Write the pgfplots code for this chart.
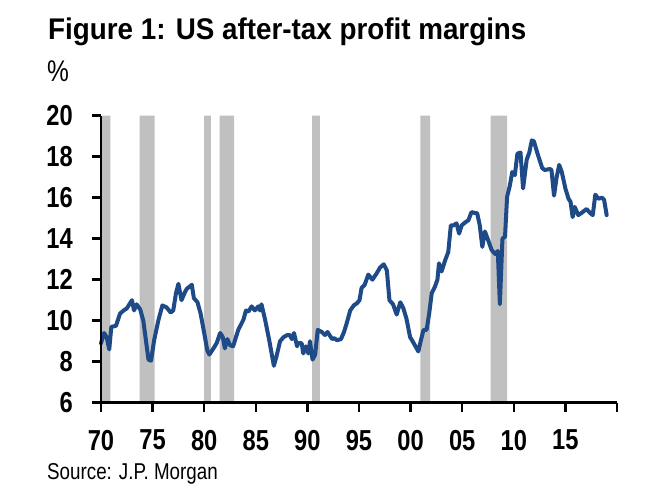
\documentclass[border=0pt]{standalone}
\usepackage{fontspec}
\setmainfont{Liberation Sans}[FakeStretch=0.82]
\newfontfamily\titlefont{Liberation Sans}[FakeStretch=0.93]
\usepackage{pgfplots}
\pgfplotsset{compat=1.18}
\definecolor{lineblue}{RGB}{30,75,135}
\definecolor{recgray}{RGB}{192,192,192}
\begin{document}
\begin{tikzpicture}
\path[use as bounding box] (0,0) rectangle (650bp,489bp);
\node[anchor=base west, inner sep=0pt] at (48bp,449bp) {\titlefont\bfseries\fontsize{30}{32}\selectfont Figure 1: US after-tax profit margins};
\node[anchor=base west, inner sep=0pt] at (47bp,407bp) {\fontsize{30}{32}\selectfont \%};
\node[anchor=base west, inner sep=0pt] at (47bp,10bp) {\fontsize{23}{25}\selectfont Source: J.P. Morgan};
\begin{axis}[
  at={(101bp,86.3bp)}, anchor=south west,
  scale only axis, width=516bp, height=287bp,
  xmin=1970, xmax=2020, ymin=6, ymax=20,
  axis x line=bottom, axis y line=left,
  axis line style={-, line width=2.5bp, black},
  axis on top,
  clip=false,
  xtick={1970,1975,...,2020},
  xticklabels={70,75,80,85,90,95,00,05,10,15,{}},
  ytick={6,8,...,20},
  tick align=outside,
  major tick length=9bp,
  tick style={line width=2.5bp, black},
  /pgf/number format/assume math mode=true,
  ticklabel style={font=\bfseries\fontsize{29}{30}\selectfont},
  xticklabel style={anchor=north, inner sep=0pt, yshift=-18bp},
  yticklabel style={anchor=east, inner sep=0pt, xshift=-19bp},
]
\addplot[fill=recgray, draw=none] coordinates {(1970.05,6) (1970.9,6) (1970.9,20) (1970.05,20)} \closedcycle;
\addplot[fill=recgray, draw=none] coordinates {(1973.75,6) (1975.2,6) (1975.2,20) (1973.75,20)} \closedcycle;
\addplot[fill=recgray, draw=none] coordinates {(1980.0,6) (1980.65,6) (1980.65,20) (1980.0,20)} \closedcycle;
\addplot[fill=recgray, draw=none] coordinates {(1981.5,6) (1982.9,6) (1982.9,20) (1981.5,20)} \closedcycle;
\addplot[fill=recgray, draw=none] coordinates {(1990.45,6) (1991.2,6) (1991.2,20) (1990.45,20)} \closedcycle;
\addplot[fill=recgray, draw=none] coordinates {(2000.95,6) (2001.9,6) (2001.9,20) (2000.95,20)} \closedcycle;
\addplot[fill=recgray, draw=none] coordinates {(2007.75,6) (2009.35,6) (2009.35,20) (2007.75,20)} \closedcycle;
\addplot[lineblue, line width=4bp, line join=round, line cap=round] table {
x y
1970.0 8.9
1970.3 9.4
1970.55 9.2
1970.8 8.6
1971.0 9.7
1971.45 9.75
1971.85 10.35
1972.2 10.5
1972.5 10.6
1973.0 11.0
1973.2 10.5
1973.45 10.8
1973.8 10.55
1974.1 10.0
1974.35 9.05
1974.6 8.1
1974.85 8.05
1975.15 9.05
1975.55 10.0
1975.95 10.75
1976.35 10.65
1976.75 10.4
1977.0 10.5
1977.27 11.35
1977.5 11.8
1977.8 11.0
1978.1 11.35
1978.3 11.55
1978.8 11.75
1979.0 11.1
1979.35 10.9
1979.65 10.35
1980.0 9.4
1980.3 8.55
1980.5 8.35
1980.9 8.65
1981.2 8.9
1981.55 9.4
1981.8 9.2
1982.0 8.65
1982.25 9.1
1982.5 8.8
1982.8 8.75
1983.3 9.55
1983.8 10.05
1984.05 10.5
1984.3 10.45
1984.6 10.7
1984.9 10.5
1985.25 10.7
1985.4 10.5
1985.55 10.8
1985.9 10.05
1986.3 9.05
1986.75 7.8
1987.0 8.25
1987.35 9.0
1987.7 9.2
1988.05 9.3
1988.3 9.3
1988.5 9.1
1988.7 9.4
1989.0 8.75
1989.1 8.9
1989.45 8.9
1989.6 8.4
1989.85 8.75
1990.1 8.4
1990.25 9.0
1990.5 8.1
1990.75 8.35
1991.0 9.55
1991.4 9.45
1991.7 9.3
1991.95 9.45
1992.4 9.1
1992.6 9.15
1992.85 9.05
1993.25 9.1
1993.55 9.45
1993.85 9.95
1994.15 10.5
1994.5 10.75
1994.8 10.85
1995.05 11.0
1995.25 11.6
1995.55 11.75
1995.9 12.25
1996.3 12.0
1996.7 12.3
1997.05 12.6
1997.4 12.75
1997.7 12.45
1997.95 11.0
1998.3 10.8
1998.65 10.3
1999.0 10.9
1999.3 10.6
1999.6 10.1
1999.95 9.2
2000.25 8.95
2000.75 8.5
2001.0 9.05
2001.25 9.55
2001.55 9.55
2001.8 10.35
2002.05 11.35
2002.35 11.65
2002.6 12.0
2002.75 12.8
2003.0 12.4
2003.35 12.95
2003.65 13.35
2003.9 14.65
2004.15 14.65
2004.45 14.75
2004.7 14.25
2004.95 14.65
2005.3 14.8
2005.6 14.9
2005.9 15.3
2006.25 15.25
2006.45 15.25
2006.7 14.65
2006.95 13.6
2007.2 14.35
2007.5 13.95
2007.85 13.45
2008.2 13.25
2008.45 13.4
2008.65 10.8
2008.9 14.0
2009.15 14.1
2009.35 16.05
2009.6 16.55
2009.85 17.25
2010.1 17.1
2010.35 18.15
2010.65 18.2
2010.9 16.45
2011.25 17.85
2011.5 18.2
2011.75 18.8
2011.95 18.75
2012.3 18.15
2012.75 17.45
2013.0 17.35
2013.5 17.4
2013.65 17.35
2013.9 16.1
2014.15 17.0
2014.4 17.6
2014.65 17.25
2015.0 16.45
2015.3 15.95
2015.5 15.8
2015.7 15.05
2015.9 15.55
2016.25 15.15
2016.55 15.25
2017.05 15.45
2017.4 15.25
2017.65 15.15
2017.9 16.15
2018.2 15.95
2018.55 16.0
2018.75 15.9
2019.0 15.15
};
\end{axis}
\end{tikzpicture}
\end{document}
